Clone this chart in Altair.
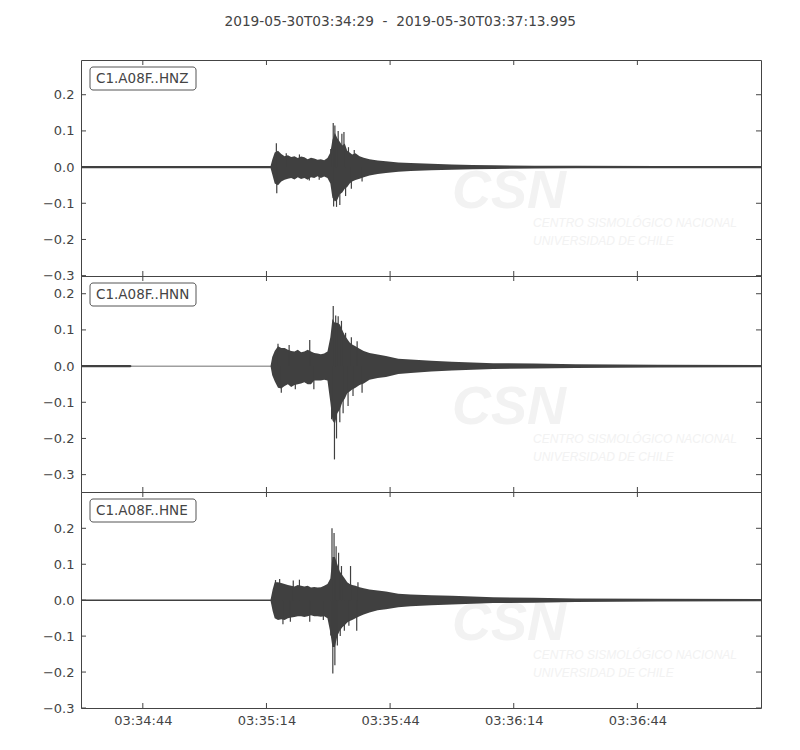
import pandas as pd
import altair as alt

TITLE = "2019-05-30T03:34:29\u00a0 -\u00a0 2019-05-30T03:37:13.995"
CHANNELS = ["C1.A08F..HNZ", "C1.A08F..HNN", "C1.A08F..HNE"]
START = "2019-05-30 03:34:29"
END = "2019-05-30 03:37:13.995"
X_TICKS = ["03:34:44", "03:35:14", "03:35:44", "03:36:14", "03:36:44"]
Y_TICKS = [-0.3, -0.2, -0.1, 0.0, 0.1, 0.2]
Y_DOMAINS = [[-0.301, 0.296], [-0.348, 0.249], [-0.300, 0.301]]
WATERMARK = ["CSN", "CENTRO SISMOLÓGICO NACIONAL", "UNIVERSIDAD DE CHILE"]

# outer edges of each trace (seconds after START)
T_Z = [0, 46.0, 46.4, 47.0, 47.8, 48.6, 49.4, 50.2, 51.0, 51.8, 52.6, 53.4, 54.2, 55.0, 55.8, 56.6,
       57.4, 58.2, 59.0, 59.8, 60.5, 61.0, 61.6, 62.2, 62.8, 63.4, 64.0, 64.6, 65.2, 65.8, 66.6, 67.6,
       68.6, 70.0, 72.0, 74.0, 77.0, 80.0, 85.0, 90.0, 95.0, 100, 110, 120, 140, 165]
UP_Z = [0.003, 0.003, 0.02, 0.04, 0.045, 0.036, 0.03, 0.033, 0.028, 0.03, 0.025, 0.029, 0.027, 0.022,
        0.026, 0.024, 0.02, 0.022, 0.019, 0.025, 0.04, 0.075, 0.095, 0.08, 0.07, 0.06, 0.065, 0.045,
        0.04, 0.035, 0.038, 0.03, 0.026, 0.022, 0.018, 0.016, 0.013, 0.011, 0.009, 0.007, 0.006,
        0.005, 0.004, 0.0035, 0.003, 0.003]
LO_Z = [-0.003, -0.003, -0.02, -0.045, -0.05, -0.04, -0.035, -0.032, -0.03, -0.034, -0.028, -0.033,
        -0.03, -0.035, -0.028, -0.03, -0.025, -0.03, -0.026, -0.03, -0.045, -0.085, -0.095, -0.09,
        -0.075, -0.07, -0.06, -0.055, -0.045, -0.04, -0.036, -0.032, -0.028, -0.023, -0.019, -0.016,
        -0.013, -0.011, -0.009, -0.007, -0.006, -0.005, -0.004, -0.0035, -0.003, -0.003]

T_N = [0, 12.0, 12.3, 46.0, 46.4, 47.0, 47.8, 48.6, 49.4, 50.2, 51.0, 51.8, 52.6, 53.4, 54.2, 55.0,
       55.8, 56.6, 57.4, 58.2, 59.0, 59.8, 60.5, 61.0, 61.6, 62.2, 62.8, 63.4, 64.0, 64.6, 65.2, 65.8,
       66.6, 67.6, 68.6, 70.0, 72.0, 74.0, 77.0, 80.0, 85.0, 90.0, 95.0, 100, 110, 120, 140, 165]
UP_N = [0.003, 0.003, 0.0012, 0.0012, 0.025, 0.042, 0.055, 0.05, 0.05, 0.045, 0.042, 0.04, 0.045,
        0.038, 0.04, 0.045, 0.04, 0.036, 0.035, 0.033, 0.035, 0.04, 0.08, 0.13, 0.12, 0.12, 0.115,
        0.10, 0.085, 0.075, 0.065, 0.06, 0.055, 0.048, 0.042, 0.036, 0.032, 0.028, 0.02, 0.018, 0.015,
        0.012, 0.01, 0.008, 0.007, 0.005, 0.004, 0.003]
LO_N = [-0.003, -0.003, -0.0012, -0.0012, -0.025, -0.042, -0.06, -0.062, -0.055, -0.05, -0.058,
        -0.052, -0.05, -0.048, -0.045, -0.05, -0.05, -0.04, -0.04, -0.04, -0.038, -0.04, -0.1, -0.15,
        -0.16, -0.13, -0.12, -0.10, -0.09, -0.075, -0.07, -0.065, -0.06, -0.052, -0.048, -0.038,
        -0.033, -0.03, -0.022, -0.019, -0.015, -0.012, -0.01, -0.008, -0.007, -0.005, -0.004, -0.003]

T_E = [0, 46.0, 46.5, 47.0, 47.8, 48.6, 49.4, 50.2, 51.0, 51.8, 52.6, 53.4, 54.2, 55.0, 55.8, 56.6,
       57.4, 58.2, 59.0, 59.8, 60.5, 61.0, 61.6, 62.2, 62.8, 63.4, 64.0, 64.6, 65.2, 65.8, 66.6, 67.6,
       68.6, 70.0, 72.0, 74.0, 77.0, 80.0, 85.0, 90.0, 95.0, 100, 110, 120, 140, 165]
UP_E = [0.002, 0.002, 0.03, 0.05, 0.05, 0.048, 0.045, 0.042, 0.04, 0.038, 0.042, 0.04, 0.038, 0.04,
        0.035, 0.037, 0.035, 0.036, 0.04, 0.045, 0.06, 0.12, 0.12, 0.10, 0.08, 0.07, 0.06, 0.05, 0.045,
        0.042, 0.04, 0.036, 0.033, 0.03, 0.027, 0.024, 0.018, 0.016, 0.014, 0.012, 0.01, 0.008, 0.007,
        0.005, 0.004, 0.003]
LO_E = [-0.002, -0.002, -0.03, -0.05, -0.055, -0.053, -0.055, -0.05, -0.048, -0.047, -0.045, -0.045,
        -0.047, -0.045, -0.042, -0.045, -0.045, -0.046, -0.045, -0.05, -0.09, -0.13, -0.13, -0.10,
        -0.085, -0.075, -0.07, -0.062, -0.058, -0.055, -0.05, -0.045, -0.04, -0.034, -0.028, -0.025,
        -0.02, -0.017, -0.014, -0.012, -0.01, -0.008, -0.007, -0.005, -0.004, -0.003]

# single swings that stick out of the envelope
SPIKE_T_Z = [47.4, 47.5, 49.8, 53.0, 55.4, 57.8, 60.6, 61.2, 61.3, 61.6, 62.0, 62.4, 62.8, 63.3,
             63.8, 64.2, 64.9, 65.6, 66.3, 68.2]
SPIKE_V_Z = [0.066, -0.072, 0.038, 0.035, -0.037, -0.035, 0.05, 0.122, -0.109, 0.115, -0.11, 0.10,
             -0.105, 0.092, 0.097, -0.08, 0.055, -0.06, 0.047, -0.04]
SPIKE_T_N = [47.8, 48.6, 50.5, 52.0, 55.5, 56.5, 60.8, 61.2, 61.5, 61.8, 62.0, 62.4, 62.8, 63.2,
             63.6, 64.2, 64.8, 65.6, 66.0, 67.0, 68.2]
SPIKE_V_N = [0.062, -0.074, 0.058, -0.064, 0.072, -0.064, -0.147, 0.166, -0.258, 0.14, -0.2, 0.138,
             -0.155, 0.125, -0.13, 0.092, -0.11, 0.08, -0.083, 0.069, -0.074]
SPIKE_T_E = [47.2, 48.2, 49.0, 50.8, 51.5, 53.0, 55.5, 58.8, 60.6, 60.9, 61.1, 61.4, 61.6, 61.9,
             62.2, 62.5, 62.9, 63.2, 63.9, 65.0, 65.4, 66.9, 67.2]
SPIKE_V_E = [0.056, 0.059, -0.067, -0.06, 0.055, 0.057, -0.06, -0.055, -0.098, 0.2, -0.204, 0.187,
             -0.181, 0.15, -0.126, 0.132, -0.1, 0.095, -0.085, -0.071, 0.095, -0.085, 0.05]

FONT = "DejaVu Sans"
WM_FONT = "Liberation Sans"
INK = "#444444"
TRACE = "#404040"
FAINT = "#f2f2f2"
W, H = 680, 216
TICK = 5

start = pd.Timestamp(START)


def stamp(seconds):
    return start + pd.to_timedelta(seconds, unit="s")


def vl_time(ts):
    return alt.DateTime(year=ts.year, month=ts.month, date=ts.day, hours=ts.hour,
                        minutes=ts.minute, seconds=ts.second,
                        milliseconds=ts.microsecond // 1000)


x_domain = [vl_time(start), vl_time(pd.Timestamp(END))]
x_tick_times = [pd.Timestamp(START[:11] + s) for s in X_TICKS]


def panel(name, t, up, lo, spike_t, spike_v, y_domain, bottom):
    x_axis = None
    if bottom:
        x_axis = alt.Axis(values=[vl_time(v) for v in x_tick_times], format="%H:%M:%S",
                          ticks=False, domain=False, grid=False, labelPadding=6, labelFlush=False)
    y_axis = alt.Axis(values=Y_TICKS, format=".1f", ticks=False, domain=False, grid=False,
                      labelPadding=7, minExtent=72, maxExtent=72)
    xs = alt.Scale(domain=x_domain)
    ys = alt.Scale(domain=y_domain, nice=False, zero=False)

    def X(f):
        return alt.X(f, type="temporal", scale=xs, axis=x_axis, title=None)

    def Y(f):
        return alt.Y(f, type="quantitative", scale=ys, axis=y_axis, title=None)

    wave = pd.DataFrame({"time": stamp(t), "up": up, "lo": lo})
    spikes = pd.DataFrame({"time": stamp(spike_t), "v": spike_v, "base": 0.0})
    yticks = pd.DataFrame({"v": Y_TICKS})
    xticks = pd.DataFrame({"time": x_tick_times})
    lab = pd.DataFrame({"name": [name]})

    # faint CSN logo behind the trace
    wm_big = alt.Chart(pd.DataFrame({"txt": WATERMARK[:1]})).mark_text(
        font=WM_FONT, fontSize=54, fontStyle="italic", fontWeight="bold", color=FAINT,
        align="center", baseline="alphabetic", clip=True
    ).encode(text="txt:N", x=alt.value(428), y=alt.value(148))
    wm_1 = alt.Chart(pd.DataFrame({"txt": WATERMARK[1:2]})).mark_text(
        font=WM_FONT, fontSize=12, fontStyle="italic", color=FAINT,
        align="left", baseline="alphabetic", clip=True
    ).encode(text="txt:N", x=alt.value(452), y=alt.value(167))
    wm_2 = alt.Chart(pd.DataFrame({"txt": WATERMARK[2:3]})).mark_text(
        font=WM_FONT, fontSize=12, fontStyle="italic", color=FAINT,
        align="left", baseline="alphabetic", clip=True
    ).encode(text="txt:N", x=alt.value(452), y=alt.value(185))

    band = alt.Chart(wave).mark_area(color=TRACE, opacity=1).encode(
        x=X("time"), y=Y("up"), y2=alt.Y2("lo:Q"))
    peaks = alt.Chart(spikes).mark_rule(color=TRACE, strokeWidth=1.2).encode(
        x=X("time"), y=Y("v"), y2=alt.Y2("base:Q"))

    yt_left = alt.Chart(yticks).mark_rule(color=INK).encode(
        y=Y("v"), x=alt.value(0), x2=alt.value(TICK))
    yt_right = alt.Chart(yticks).mark_rule(color=INK).encode(
        y=Y("v"), x=alt.value(W - TICK), x2=alt.value(W))
    xt_top = alt.Chart(xticks).mark_rule(color=INK).encode(
        x=X("time"), y=alt.value(0), y2=alt.value(TICK))
    xt_bottom = alt.Chart(xticks).mark_rule(color=INK).encode(
        x=X("time"), y=alt.value(H - TICK), y2=alt.value(H))

    box = alt.Chart(lab).mark_rect(fill="white", stroke="#555555", strokeWidth=1,
                                   cornerRadius=3).encode(
        x=alt.value(9), x2=alt.value(115), y=alt.value(7), y2=alt.value(30))
    label = alt.Chart(lab).mark_text(font=FONT, fontSize=13.5, color=INK, align="left",
                                     baseline="middle").encode(
        text="name:N", x=alt.value(15), y=alt.value(18.5))

    return alt.layer(wm_big, wm_1, wm_2, band, peaks, yt_left, yt_right, xt_top, xt_bottom,
                     box, label).properties(width=W, height=H)


panels = [
    panel(CHANNELS[0], T_Z, UP_Z, LO_Z, SPIKE_T_Z, SPIKE_V_Z, Y_DOMAINS[0], False),
    panel(CHANNELS[1], T_N, UP_N, LO_N, SPIKE_T_N, SPIKE_V_N, Y_DOMAINS[1], False),
    panel(CHANNELS[2], T_E, UP_E, LO_E, SPIKE_T_E, SPIKE_V_E, Y_DOMAINS[2], True),
]

chart = (
    alt.vconcat(*panels, spacing=0, bounds="flush")
    .properties(
        title=alt.TitleParams(TITLE, anchor="middle", dx=15),
        padding={"left": 0, "top": 7, "right": 5, "bottom": 5},
    )
    .configure_view(stroke=INK, strokeWidth=1)
    .configure_axis(labelFont=FONT, labelFontSize=13, labelColor=INK)
    .configure_title(font=FONT, fontSize=13.7, fontWeight="normal", color=INK, offset=30)
)

chart.save("out.html", embed_options={"renderer": "svg", "actions": False})
